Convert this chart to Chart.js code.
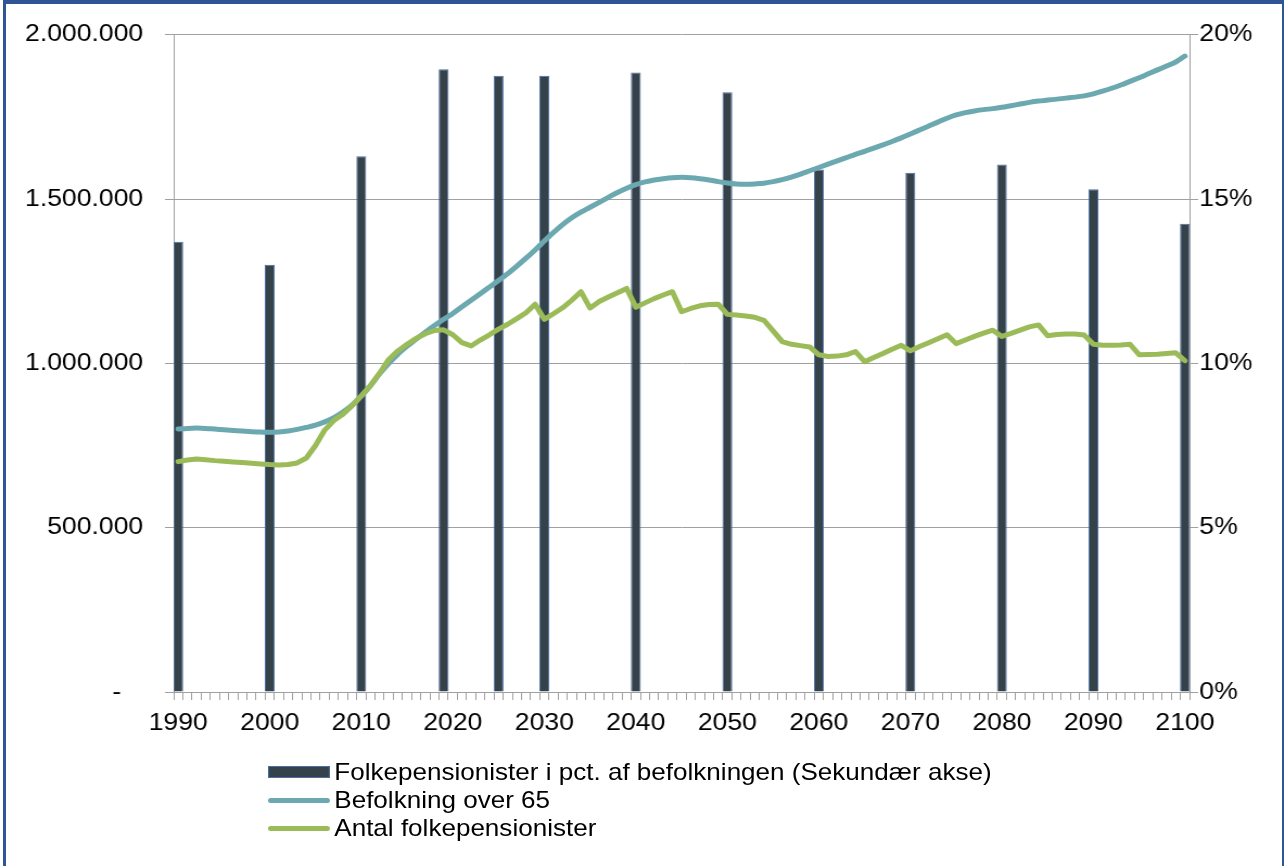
<!DOCTYPE html>
<html>
<head>
<meta charset="utf-8">
<script src="https://cdn.jsdelivr.net/npm/chart.js@4/dist/chart.umd.min.js"></script>
<style>
  html, body { margin: 0; padding: 0; background: #fff; overflow: hidden; }
  body { width: 1285px; height: 866px; position: relative; }
  #frame { position: absolute; left: 3px; top: 0; right: 1px; bottom: -10px;
           border-top: 4px solid #2f5597; border-left: 3px solid #2f5597; border-right: 2px solid #2f5597; }
  #wrap { position: absolute; left: 0; top: 0; width: 1184px; height: 866px;
          transform: scaleX(1.0853); transform-origin: 0 0; }
  #legend { position: absolute; left: 247px; top: 758px; font-family: "Liberation Sans", Arial, sans-serif;
            font-size: 24px; color: #000; line-height: 28px; }
  #legend div { display: flex; align-items: center; white-space: nowrap; }
  #legend span.sw { display: inline-block; width: 57px; margin-right: 4px; }
</style>
</head>
<body>
<div id="frame"></div>
<div id="wrap">
  <canvas id="chart"></canvas>
  <div id="legend"></div>
</div>
<script>
// categories: one per year, labels every 10 years
var years = [];
for (var y = 1990; y <= 2100; y++) years.push(y);

// bars: folkepensionister i pct. af befolkningen (secondary axis)
var barYears = [1990, 2000, 2010, 2019, 2025, 2030, 2040, 2050, 2060, 2070, 2080, 2090, 2100];
var barPct = [13.7, 13.0, 16.3, 18.95, 18.75, 18.75, 18.85, 18.25, 15.9, 15.8, 16.05, 15.3, 14.25];

// befolkning over 65, 1990-2100
var over65 = [
  800000, 802000, 803000, 802000, 800000, 798000, 796000, 794000, 792000, 791000,
  790000, 791000, 794000, 799000, 805000, 812000, 822000, 835000, 852000, 873000,
  900000, 932000, 968000, 1000000, 1028000, 1052000, 1074000, 1095000, 1115000, 1134000,
  1152000, 1172000, 1192000, 1212000, 1232000, 1252000, 1273000, 1296000, 1320000, 1345000,
  1372000, 1398000, 1422000, 1443000, 1460000, 1475000, 1490000, 1505000, 1520000, 1533000,
  1544000, 1552000, 1558000, 1562000, 1565000, 1566000, 1565000, 1562000, 1558000, 1553000,
  1549000, 1546000, 1545000, 1546000, 1548000, 1553000, 1559000, 1567000, 1576000, 1586000,
  1596000, 1606000, 1616000, 1626000, 1636000, 1645000, 1655000, 1665000, 1675000, 1686000,
  1698000, 1710000, 1722000, 1734000, 1746000, 1756000, 1763000, 1768000, 1772000, 1775000,
  1779000, 1784000, 1789000, 1794000, 1798000, 1801000, 1804000, 1807000, 1810000, 1814000,
  1820000, 1828000, 1837000, 1847000, 1858000, 1869000, 1881000, 1893000, 1905000, 1917000,
  1935000
];

// antal folkepensionister, 1990-2100
var pensioners = [
  701000, 706000, 709000, 707000, 704000, 702000, 700000, 698000, 696000, 694000,
  692000, 691000, 692000, 697000, 712000, 750000, 797000, 826000, 845000, 871000,
  901000, 932000, 970000, 1012000, 1038000, 1058000, 1076000, 1090000, 1100000, 1102000,
  1087000, 1063000, 1053000, 1071000, 1087000, 1104000, 1119000, 1136000, 1154000, 1180000,
  1134000, 1151000, 1169000, 1192000, 1218000, 1168000, 1188000, 1202000, 1215000, 1228000,
  1171000, 1184000, 1197000, 1208000, 1218000, 1157000, 1167000, 1175000, 1179000, 1180000,
  1149000, 1147000, 1144000, 1140000, 1131000, 1099000, 1066000, 1058000, 1054000, 1050000,
  1026000, 1021000, 1022000, 1026000, 1036000, 1005000, 1018000, 1030000, 1043000, 1055000,
  1038000, 1051000, 1063000, 1075000, 1087000, 1060000, 1071000, 1082000, 1092000, 1101000,
  1082000, 1091000, 1101000, 1111000, 1117000, 1084000, 1088000, 1089000, 1089000, 1086000,
  1058000, 1055000, 1055000, 1056000, 1058000, 1026000, 1027000, 1028000, 1030000, 1032000,
  1008000
];

var barData = years.map(function(yr) {
    var i = barYears.indexOf(yr);
    return i >= 0 ? barPct[i] : null;
});

function thousands(v) {
    return String(v).replace(/\B(?=(\d{3})+(?!\d))/g, '.');
}

var gridColor = '#a0a0a0';
Chart.defaults.font.family = '"Liberation Sans", Arial, sans-serif';
Chart.defaults.font.size = 24.5;
Chart.defaults.color = '#000';

var chart = new Chart(document.getElementById('chart'), {
    type: 'bar',
    data: {
        labels: years,
        datasets: [{
            type: 'bar',
            label: 'Folkepensionister i pct. af befolkningen (Sekundær akse)',
            data: barData,
            yAxisID: 'y1',
            backgroundColor: '#36424a',
            borderColor: '#4a6fa5',
            borderWidth: 1,
            barPercentage: 1.08,
            categoryPercentage: 1,
            order: 3
        }, {
            type: 'line',
            label: 'Befolkning over 65',
            data: over65,
            yAxisID: 'y',
            borderColor: '#6ba8b0',
            backgroundColor: '#6ba8b0',
            borderWidth: 5,
            pointRadius: 0,
            cubicInterpolationMode: 'monotone',
            borderCapStyle: 'round',
            borderJoinStyle: 'round',
            fill: false,
            order: 2
        }, {
            type: 'line',
            label: 'Antal folkepensionister',
            data: pensioners,
            yAxisID: 'y',
            borderColor: '#9bbb59',
            backgroundColor: '#9bbb59',
            borderWidth: 5,
            pointRadius: 0,
            tension: 0,
            borderCapStyle: 'round',
            borderJoinStyle: 'round',
            fill: false,
            order: 1
        }]
    },
    options: {
        responsive: true,
        maintainAspectRatio: false,
        animation: false,
        layout: { padding: { left: 0, right: 0, top: 33, bottom: 124 } },
        plugins: { legend: { display: false }, tooltip: { enabled: false } },
        scales: {
            x: {
                offset: true,
                grid: { display: true, offset: true, drawOnChartArea: false, drawTicks: true, tickLength: 8, color: gridColor },
                border: { display: true, color: gridColor },
                ticks: {
                    autoSkip: false, maxRotation: 0, minRotation: 0, padding: 9,
                    callback: function(v, i) { return years[i] % 10 === 0 ? String(years[i]) : ''; }
                },
                afterFit: function(s) { s.height = 50; }
            },
            y: {
                position: 'left',
                min: 0, max: 2000000,
                grid: { color: gridColor, tickLength: 8 },
                border: { display: true, color: gridColor },
                ticks: {
                    stepSize: 500000, padding: 20,
                    callback: function(v) { return v === 0 ? '-   ' : thousands(v); }
                },
                afterFit: function(s) { s.width = 160; }
            },
            y1: {
                position: 'right',
                min: 0, max: 20,
                grid: { drawOnChartArea: false, color: gridColor, tickLength: 8 },
                border: { display: true, color: gridColor },
                ticks: {
                    stepSize: 5, padding: 1,
                    callback: function(v) { return v + '%'; }
                },
                afterFit: function(s) { s.width = 88; }
            }
        }
    }
});

// legend below the chart, one entry per line
var legendEl = document.getElementById('legend');
chart.data.datasets.forEach(function(ds) {
    var row = document.createElement('div');
    var sw = document.createElement('span');
    sw.className = 'sw';
    if (ds.type === 'bar') {
        sw.style.height = '12px';
        sw.style.background = ds.backgroundColor;
        sw.style.border = '1px solid ' + ds.borderColor;
        sw.style.boxSizing = 'border-box';
    } else {
        sw.style.height = '5px';
        sw.style.borderRadius = '2.5px';
        sw.style.background = ds.borderColor;
    }
    row.appendChild(sw);
    row.appendChild(document.createTextNode(ds.label));
    legendEl.appendChild(row);
});
</script>
</body>
</html>
